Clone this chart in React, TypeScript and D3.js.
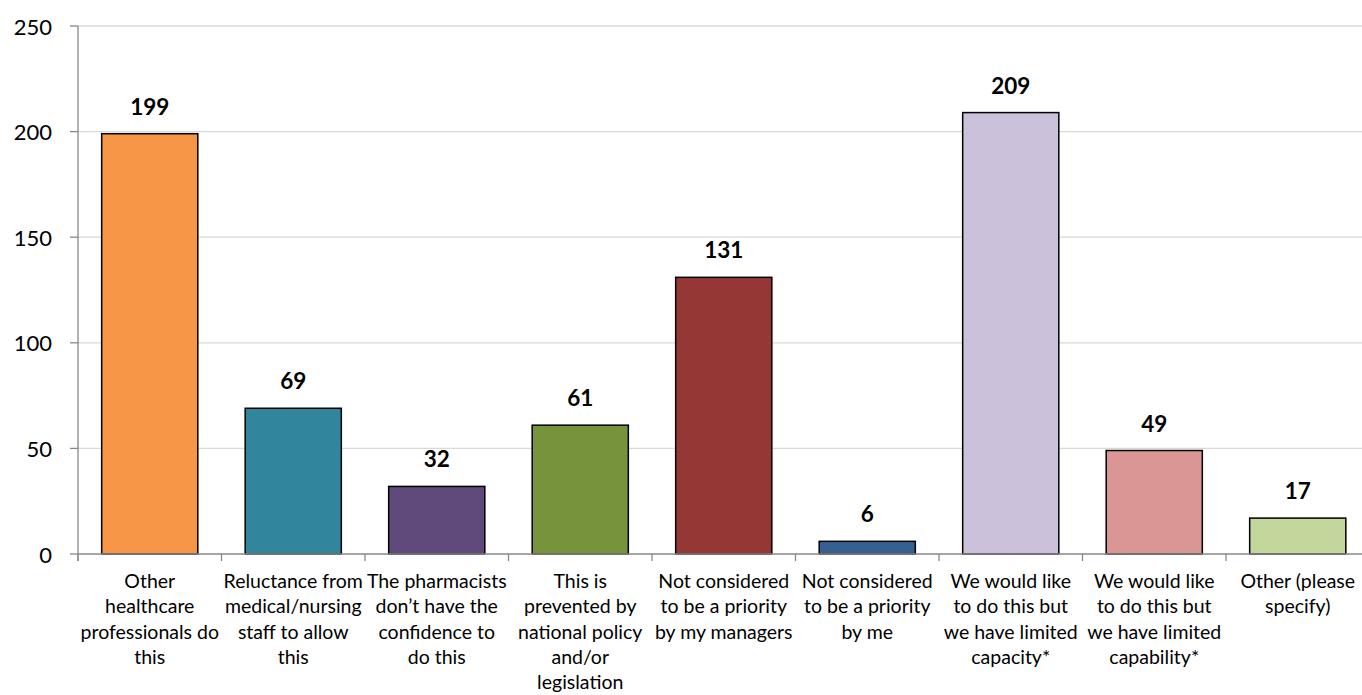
import React from "react";
import * as d3 from "d3";

const categories = [
  "Other\nhealthcare\nprofessionals do\nthis",
  "Reluctance from\nmedical/nursing\nstaff to allow\nthis",
  "The pharmacists\ndon’t have the\nconfidence to\ndo this",
  "This is\nprevented by\nnational policy\nand/or\nlegislation",
  "Not considered\nto be a priority\nby my managers",
  "Not considered\nto be a priority\nby me",
  "We would like\nto do this but\nwe have limited\ncapacity*",
  "We would like\nto do this but\nwe have limited\ncapability*",
  "Other (please\nspecify)",
];
const values = [199, 69, 32, 61, 131, 6, 209, 49, 17];
const colors = ["#F79646", "#31859C", "#604A7B", "#77933C", "#953735", "#376092", "#CCC1DA", "#D99694", "#C3D69B"];
const yTicks = [0, 50, 100, 150, 200, 250];

const W = 1362;
const H = 695;
const left = 78;
const right = 1369.5;
const top = 26;
const bottom = 554;
const font = "Lato, 'Open Sans', sans-serif";

export default function App() {
  const x = d3.scaleBand<string>().domain(categories).range([left, right]).paddingInner(0.33).paddingOuter(0.165);
  const y = d3.scaleLinear().domain([0, 250]).range([bottom, top]);
  const step = x.step();
  return (
    <svg width={W} height={H} style={{ position: "absolute", left: 0, top: 0, background: "#fff" }}>
      {yTicks.map((t) => (
        <g key={t}>
          {t > 0 && <line x1={left} x2={W} y1={y(t)} y2={y(t)} stroke="#d9d9d9" strokeWidth={1.3} />}
          <line x1={70} x2={left} y1={y(t)} y2={y(t)} stroke="#898989" strokeWidth={1.3} />
          <text x={52} y={y(t)} textAnchor="end" dominantBaseline="central" fontFamily={font} fontSize={22} fill="#000">
            {t}
          </text>
        </g>
      ))}
      {categories.map((c, i) => {
        const bx = x(c)!;
        const v = values[i];
        return (
          <g key={i}>
            <rect x={bx} y={y(v)} width={x.bandwidth()} height={bottom - y(v)} fill={colors[i]} stroke="#000" strokeWidth={1.5} />
            <text x={bx + x.bandwidth() / 2} y={y(v) - 19} textAnchor="middle" fontFamily={font} fontWeight="bold" fontSize={22.5} fill="#000">
              {v}
            </text>
          </g>
        );
      })}
      <line x1={left} x2={left} y1={top} y2={bottom + 7} stroke="#898989" strokeWidth={1.3} />
      <line x1={left} x2={W} y1={bottom} y2={bottom} stroke="#898989" strokeWidth={1.3} />
      {d3.range(categories.length + 1).map((i) => (
        <line key={i} x1={left + i * step} x2={left + i * step} y1={bottom} y2={bottom + 7} stroke="#898989" strokeWidth={1.3} />
      ))}
      {categories.map((c, i) => {
        const cx = x(c)! + x.bandwidth() / 2;
        return (
          <text key={i} textAnchor="middle" fontFamily={font} fontSize={19.5} fill="#000">
            {c.split("\n").map((ln, j) => (
              <tspan key={j} x={cx} y={588 + j * 25.3}>
                {ln}
              </tspan>
            ))}
          </text>
        );
      })}
    </svg>
  );
}
